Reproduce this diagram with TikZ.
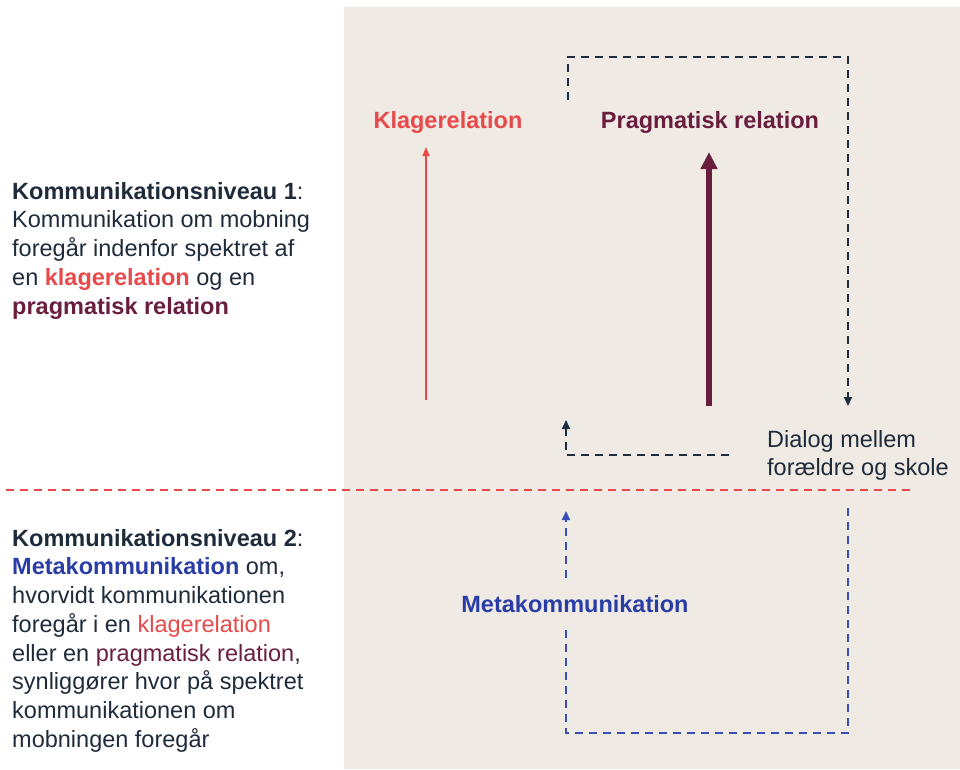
\documentclass[tikz,border=0pt]{standalone}
\usepackage{fontspec}
\setmainfont{Liberation Sans}
\usetikzlibrary{arrows.meta}
\definecolor{bgbeige}{HTML}{EFEAE3}
\definecolor{ink}{HTML}{1E2B3A}
\definecolor{klagred}{HTML}{E8494A}
\definecolor{pragmaroon}{HTML}{6A1E3E}
\definecolor{metablue}{HTML}{2A3DA5}
\definecolor{loopblue}{HTML}{3A4FB5}
\definecolor{loopink}{HTML}{1E2D3D}

\begin{document}
\begin{tikzpicture}[x=1pt,y=-1pt,
  txt/.style={inner sep=0pt, text=ink, font=\fontsize{23.5}{28.7}\selectfont, align=left, anchor=north west},
  head/.style={inner sep=0pt, anchor=base, font=\fontsize{23.5}{28.7}\selectfont\bfseries},
  dashline/.style={line width=1.8pt, dash pattern=on 8pt off 6pt},
  smalltip/.style={-{Triangle[length=9pt,width=8pt]}}
]
\useasboundingbox (0,0) rectangle (960,769);
\fill[bgbeige] (344,7) rectangle (960,769);

% headings of the two relations and of the meta level
\node[head, text=klagred] (klag) at (448,128) {Klagerelation};
\node[head, text=pragmaroon] (prag) at (710,128) {Pragmatisk relation};
\node[head, text=metablue] (meta) at (575,612) {Metakommunikation};
\node[txt] (dialog) at (767,430) {Dialog mellem\\forældre og skole};

% explanatory text, level 1
\node[txt] (level1) at (12,182) {{\bfseries Kommunikationsniveau 1}:\\
Kommunikation om mobning\\
foregår indenfor spektret af\\
en {\bfseries\color{klagred}klagerelation} og en\\
{\bfseries\color{pragmaroon}pragmatisk relation}};

% explanatory text, level 2
\node[txt] (level2) at (12,529) {{\bfseries Kommunikationsniveau 2}:\\
{\bfseries\color{metablue}Metakommunikation} om,\\
hvorvidt kommunikationen\\
foregår i en {\color{klagred}klagerelation}\\
eller en {\color{pragmaroon}pragmatisk relation},\\
synliggører hvor på spektret\\
kommunikationen om\\
mobningen foregår};

% end points of the connectors
\coordinate (klagfoot) at (426,400);
\coordinate (klagtip) at (426,147);
\coordinate (pragfoot) at (709,406);
\coordinate (pragtip) at (709,152);
\coordinate (loopstart) at (568,100);
\coordinate (loopNW) at (568,57);
\coordinate (loopNE) at (848,57);
\coordinate (looptip) at (848,406);
\coordinate (backstart) at (729,455);
\coordinate (backcorner) at (566,455);
\coordinate (backtip) at (566,420);
\coordinate (divL) at (6,490);
\coordinate (divR) at (912,490);
\coordinate (metaNE) at (848,508);
\coordinate (metaSE) at (848,733);
\coordinate (metaSW) at (566,733);
\coordinate (metaLow) at (566,628);
\coordinate (metaHigh) at (566,578);
\coordinate (metatip) at (566,511);

% level 1 arrows
\draw[klagred, line width=1.5pt, -{Triangle[length=9pt,width=7pt]}] (klagfoot) -- (klagtip);
\draw[pragmaroon, line width=6pt, -{Triangle[length=17pt,width=16pt]}] (pragfoot) -- (pragtip);

% dialog loop
\draw[loopink, dashline, smalltip] (loopstart) -- (loopNW) -- (loopNE) -- (looptip);
\draw[loopink, dashline, smalltip] (backstart) -- (backcorner) -- (backtip);

% divider between the levels
\draw[klagred, dashline] (divL) -- (divR);

% meta loop
\draw[loopblue, dashline] (metaNE) -- (metaSE) -- (metaSW) -- (metaLow);
\draw[loopblue, dashline, smalltip] (metaHigh) -- (metatip);
\end{tikzpicture}
\end{document}
